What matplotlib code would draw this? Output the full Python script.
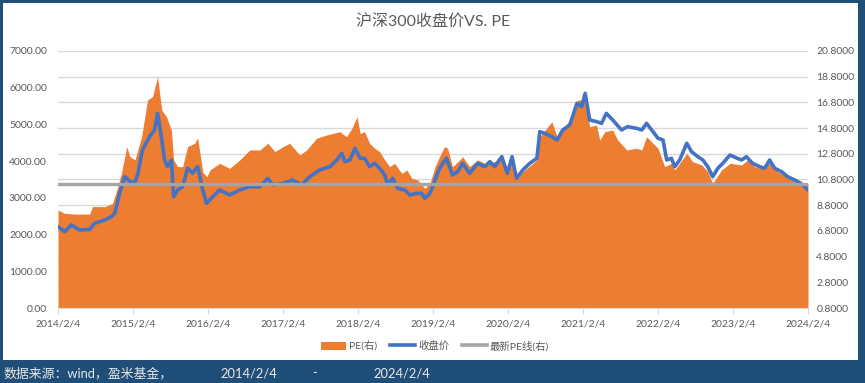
import matplotlib
matplotlib.use('Agg')
import matplotlib.pyplot as plt
from matplotlib.patches import Rectangle, Patch
from matplotlib.lines import Line2D
import pandas as pd

plt.rcParams['font.family'] = ['Lato', 'Noto Sans CJK SC', 'DejaVu Sans']

# 沪深300收盘价 (left axis)
close_dates = [
    "2014-02-04", "2014-03-08", "2014-04-10", "2014-05-20", "2014-07-08", "2014-08-01",
    "2014-09-20", "2014-10-22", "2014-11-08", "2014-12-01", "2014-12-26", "2015-01-20",
    "2015-02-14", "2015-03-01", "2015-03-22", "2015-04-26", "2015-05-20", "2015-06-04",
    "2015-06-22", "2015-07-08", "2015-07-22", "2015-08-10", "2015-08-21", "2015-09-10",
    "2015-10-04", "2015-10-28", "2015-11-22", "2015-12-16", "2016-01-10", "2016-01-28",
    "2016-02-28", "2016-04-01", "2016-05-20", "2016-07-08", "2016-08-26", "2016-10-14",
    "2016-11-22", "2016-12-16", "2017-02-04", "2017-03-22", "2017-05-05", "2017-06-14",
    "2017-08-01", "2017-09-20", "2017-10-24", "2017-11-17", "2017-12-01", "2017-12-26",
    "2018-01-20", "2018-02-14", "2018-03-08", "2018-04-01", "2018-04-26", "2018-05-20",
    "2018-06-14", "2018-06-28", "2018-07-22", "2018-08-16", "2018-09-20", "2018-10-14",
    "2018-11-17", "2018-12-10", "2018-12-26", "2019-01-20", "2019-02-14", "2019-03-08",
    "2019-04-10", "2019-05-10", "2019-06-04", "2019-06-28", "2019-08-01", "2019-09-10",
    "2019-10-14", "2019-11-08", "2019-12-01", "2020-01-05", "2020-02-01", "2020-02-24",
    "2020-03-08", "2020-03-18", "2020-04-16", "2020-05-20", "2020-06-24", "2020-07-08",
    "2020-08-01", "2020-09-05", "2020-09-30", "2020-10-28", "2020-12-01", "2021-01-05",
    "2021-01-28", "2021-02-14", "2021-03-08", "2021-04-10", "2021-05-05", "2021-05-28",
    "2021-06-28", "2021-08-10", "2021-09-08", "2021-10-22", "2021-11-17", "2021-12-10",
    "2022-01-10", "2022-02-04", "2022-02-28", "2022-03-18", "2022-04-10", "2022-04-26",
    "2022-05-20", "2022-06-24", "2022-07-17", "2022-08-16", "2022-09-10", "2022-10-04",
    "2022-10-28", "2022-11-22", "2022-12-16", "2023-01-20", "2023-02-24", "2023-03-18",
    "2023-04-10", "2023-05-10", "2023-06-14", "2023-07-08", "2023-08-01", "2023-08-26",
    "2023-09-28", "2023-10-28", "2023-12-01", "2023-12-30", "2024-02-04",
]
close_vals = [
    2215, 2080, 2261, 2125, 2140, 2307,
    2397, 2488, 2588, 3124, 3577, 3450,
    3420, 3677, 4304, 4667, 4849, 5303,
    4667, 4032, 3849, 4032, 3032, 3214,
    3305, 3805, 3677, 3849, 3214, 2851,
    3032, 3214, 3078, 3214, 3305, 3305,
    3532, 3350, 3396, 3487, 3350, 3577,
    3759, 3849, 4032, 4213, 3986, 4032,
    4350, 4078, 4078, 3849, 3941, 3805,
    3623, 3350, 3532, 3260, 3214, 3078,
    3123, 3123, 2987, 3123, 3487, 3805,
    4078, 3623, 3714, 3941, 3668, 3941,
    3849, 3986, 3849, 4122, 3668, 4122,
    3759, 3532, 3759, 3941, 4078, 4803,
    4758, 4667, 4576, 4849, 4985, 5576,
    5484, 5848, 5121, 5076, 5030, 5303,
    5121, 4849, 4939, 4894, 4849, 5030,
    4803, 4622, 4576, 4032, 4078, 3849,
    4032, 4486, 4258, 4122, 4032, 3849,
    3577, 3805, 3941, 4168, 4078, 4032,
    4122, 3941, 3849, 3805, 4032, 3805,
    3714, 3577, 3487, 3400, 3214,
]

# PE (right axis)
pe_dates = [
    "2014-02-04", "2014-03-08", "2014-04-26", "2014-07-08", "2014-07-22", "2014-09-20",
    "2014-10-28", "2014-11-22", "2014-12-10", "2015-01-05", "2015-01-20", "2015-02-14",
    "2015-03-18", "2015-04-16", "2015-05-10", "2015-06-04", "2015-06-24", "2015-07-17",
    "2015-08-10", "2015-08-21", "2015-09-10", "2015-10-04", "2015-10-28", "2015-12-01",
    "2015-12-16", "2016-01-10", "2016-01-30", "2016-02-14", "2016-04-01", "2016-05-20",
    "2016-07-08", "2016-08-26", "2016-10-14", "2016-11-22", "2016-12-26", "2017-02-04",
    "2017-03-08", "2017-04-26", "2017-05-30", "2017-07-17", "2017-09-05", "2017-11-08",
    "2017-12-10", "2018-01-05", "2018-01-30", "2018-02-14", "2018-03-08", "2018-04-01",
    "2018-04-26", "2018-05-20", "2018-06-14", "2018-07-08", "2018-08-01", "2018-09-05",
    "2018-09-30", "2018-10-24", "2018-11-22", "2018-12-26", "2019-01-20", "2019-02-14",
    "2019-03-08", "2019-04-01", "2019-04-16", "2019-05-10", "2019-06-14", "2019-06-28",
    "2019-08-01", "2019-09-10", "2019-10-14", "2019-12-01", "2020-01-05", "2020-02-01",
    "2020-02-24", "2020-03-18", "2020-04-16", "2020-06-24", "2020-07-08", "2020-09-05",
    "2020-09-30", "2020-12-01", "2021-01-10", "2021-02-14", "2021-03-08", "2021-04-10",
    "2021-04-26", "2021-05-20", "2021-06-28", "2021-07-22", "2021-09-05", "2021-10-22",
    "2021-11-17", "2021-12-10", "2022-01-10", "2022-02-04", "2022-03-08", "2022-04-10",
    "2022-04-26", "2022-06-24", "2022-07-22", "2022-09-05", "2022-10-04", "2022-10-28",
    "2022-12-10", "2023-01-20", "2023-03-18", "2023-04-16", "2023-05-20", "2023-06-24",
    "2023-08-01", "2023-09-10", "2023-10-24", "2023-12-01", "2024-02-04",
]
pe_vals = [
    8.43, 8.17, 8.11, 8.11, 8.69, 8.69,
    8.95, 10.24, 11.31, 13.36, 12.58, 12.32,
    14.13, 16.99, 17.25, 18.81, 16.21, 15.69,
    14.65, 12.32, 11.80, 11.80, 13.36, 13.62,
    14.03, 11.37, 11.02, 11.54, 12.06, 11.67,
    12.32, 13.10, 13.10, 13.62, 12.97, 13.36,
    13.62, 12.71, 13.10, 14.01, 14.27, 14.52,
    14.13, 14.78, 15.69, 14.39, 14.52, 13.62,
    13.23, 12.97, 12.32, 11.80, 12.06, 11.28,
    11.54, 10.89, 10.76, 10.11, 10.50, 11.80,
    12.58, 13.36, 13.23, 11.80, 12.32, 12.58,
    11.80, 12.32, 12.06, 12.19, 12.45, 11.15,
    12.45, 10.76, 11.41, 12.32, 14.13, 15.30,
    14.13, 15.43, 16.99, 16.99, 14.91, 15.04,
    13.87, 14.52, 14.65, 13.87, 13.10, 13.23,
    13.10, 14.13, 13.62, 13.23, 11.80, 12.06,
    11.54, 12.84, 12.19, 11.93, 11.41, 10.50,
    11.54, 12.06, 11.93, 12.32, 11.80, 11.67,
    12.06, 11.41, 11.02, 10.63, 10.45,
]
latest_pe = pe_vals[-1]

tick_dates = ["2014-02-04", "2015-02-04", "2016-02-04", "2017-02-04", "2018-02-04", "2019-02-04",
              "2020-02-04", "2021-02-04", "2022-02-04", "2023-02-04", "2024-02-04"]
tick_labels = ["2014/2/4", "2015/2/4", "2016/2/4", "2017/2/4", "2018/2/4", "2019/2/4",
               "2020/2/4", "2021/2/4", "2022/2/4", "2023/2/4", "2024/2/4"]

close_x = pd.to_datetime(close_dates)
pe_x = pd.to_datetime(pe_dates)
ticks_x = pd.to_datetime(tick_dates)

ORANGE = "#ED7D31"
BLUE = "#4472C4"
GRAY = "#A5A5A5"
TXT = "#595959"
FRAME = "#1F4E79"

fig = plt.figure(figsize=(8.65, 3.83), dpi=100)
fig.patch.set_facecolor(FRAME)
fig.patches.append(Rectangle((3 / 865, 1 - 360 / 383), 855 / 865, 357 / 383,
                             transform=fig.transFigure, facecolor="white", edgecolor="none", zorder=0))

ax1 = fig.add_axes([58 / 865, 75 / 383, 750 / 865, 257 / 383])
ax2 = ax1.twinx()   # PE area + right labels
ax3 = ax1.twinx()   # latest PE line on top

ax2.set_zorder(1)
ax1.set_zorder(2)
ax3.set_zorder(3)
ax1.patch.set_visible(False)
ax3.patch.set_visible(False)
ax2.patch.set_visible(False)

ax2.fill_between(pe_x, 0.8, pe_vals, color=ORANGE, linewidth=0)
ax1.plot(close_x, close_vals, color=BLUE, linewidth=2.6)
ax3.axhline(latest_pe, color=GRAY, linewidth=2.4)

xmin, xmax = ticks_x[0], ticks_x[-1]
for a in (ax1, ax2, ax3):
    a.set_xlim(xmin, xmax)
    for s in a.spines.values():
        s.set_visible(False)

ax1.set_ylim(0, 7000)
ax1.set_yticks(range(0, 7001, 1000))
ax1.set_yticklabels([f"{v:.2f}" for v in range(0, 7001, 1000)])
ax2.set_ylim(0.8, 20.8)
pe_ticks = [0.8 + 2 * i for i in range(11)]
ax2.set_yticks(pe_ticks)
ax2.set_yticklabels([f"{v:.4f}" for v in pe_ticks])
ax3.set_ylim(0.8, 20.8)
ax3.set_yticks([])

ax2.set_axisbelow(True)
ax2.grid(axis="y", color="#D9D9D9", linewidth=1)
ax2.grid(axis="x", visible=False)

ax1.set_xticks(ticks_x)
ax1.set_xticklabels(tick_labels)
ax1.tick_params(axis="x", colors="#D9D9D9", labelcolor=TXT, labelsize=7.5, length=4, pad=4)
ax1.tick_params(axis="y", length=0, labelcolor=TXT, labelsize=7.5, pad=8)
ax2.tick_params(axis="y", length=0, labelcolor=TXT, labelsize=7.5, pad=6)
ax2.tick_params(axis="x", length=0, labelbottom=False)
ax3.tick_params(axis="x", length=0, labelbottom=False)
ax1.spines["bottom"].set_visible(True)
ax1.spines["bottom"].set_color("#D9D9D9")

fig.text(0.501, 1 - 21 / 383, "沪深300收盘价VS. PE", ha="center", va="center", fontsize=11.5, color=TXT)

handles = [Patch(facecolor=ORANGE, edgecolor="none"),
           Line2D([], [], color=BLUE, linewidth=2.6),
           Line2D([], [], color=GRAY, linewidth=2.6)]
fig.legend(handles, ["PE(右)", "收盘价", "最新PE线(右)"], loc="center",
           bbox_to_anchor=(0.503, 1 - 346 / 383), ncol=3, frameon=False, fontsize=7.5,
           labelcolor=TXT, handlelength=2.4, handleheight=0.8, handletextpad=0.3, columnspacing=1.2)

foot_y = 1 - 373 / 383
fig.text(3 / 865, foot_y, "数据来源：wind，盈米基金，", ha="left", va="center", fontsize=9.3, color="#E8E8E8")
fig.text(220 / 865, foot_y, "2014/2/4", ha="left", va="center", fontsize=9.3, color="#E8E8E8")
fig.text(312 / 865, foot_y, "-", ha="left", va="center", fontsize=9.3, color="#E8E8E8")
fig.text(373 / 865, foot_y, "2024/2/4", ha="left", va="center", fontsize=9.3, color="#E8E8E8")

fig.savefig("out.png", dpi=100, facecolor=fig.get_facecolor())
